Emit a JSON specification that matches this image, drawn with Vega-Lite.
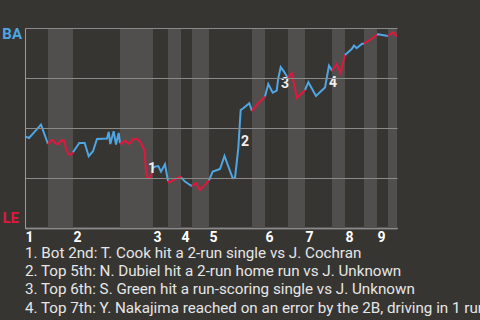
{
  "$schema": "https://vega.github.io/schema/vega-lite/v6.json",
  "width": 372,
  "height": 200,
  "autosize": {"type": "none"},
  "padding": {"left": 25, "top": 28, "right": 83, "bottom": 92},
  "background": "#373532",
  "config": {"view": {"stroke": null}, "font": "Roboto"},
  "title": {
    "text": [
      "1. Bot 2nd: T. Cook hit a 2-run single vs J. Cochran",
      "2. Top 5th: N. Dubiel hit a 2-run home run vs J. Unknown",
      "3. Top 6th: S. Green hit a run-scoring single vs J. Unknown",
      "4. Top 7th: Y. Nakajima reached on an error by the 2B, driving in 1 run"
    ],
    "orient": "bottom",
    "anchor": "start",
    "frame": "group",
    "font": "Roboto",
    "fontSize": 15.2,
    "fontWeight": "normal",
    "color": "#e6e6e6",
    "lineHeight": 18.2,
    "offset": 2,
    "limit": 1000
  },
  "datasets": {
    "bands": [
      {"start": 6.18, "end": 12.90},
      {"start": 25.54, "end": 34.41},
      {"start": 38.44, "end": 41.94},
      {"start": 44.89, "end": 49.46},
      {"start": 61.02, "end": 64.52},
      {"start": 70.70, "end": 75.27},
      {"start": 82.53, "end": 86.02},
      {"start": 91.13, "end": 94.62},
      {"start": 97.58, "end": 100}
    ],
    "notes": [
      {"n": "1", "x": 34.14, "y": 0.295},
      {"n": "2", "x": 59.14, "y": 0.43},
      {"n": "3", "x": 69.89, "y": 0.72},
      {"n": "4", "x": 82.80, "y": 0.725}
    ],
    "wp": [
      {"h": "T1", "t": "BA", "x": 0, "y": 0.458},
      {"h": "T1", "t": "BA", "x": 1.08, "y": 0.45},
      {"h": "T1", "t": "BA", "x": 2.69, "y": 0.483},
      {"h": "T1", "t": "BA", "x": 4.30, "y": 0.517},
      {"h": "T1", "t": "BA", "x": 6.18, "y": 0.42},
      {"h": "B1", "t": "LE", "x": 6.18, "y": 0.42},
      {"h": "B1", "t": "LE", "x": 6.99, "y": 0.437},
      {"h": "B1", "t": "LE", "x": 7.53, "y": 0.44},
      {"h": "B1", "t": "LE", "x": 8.33, "y": 0.42},
      {"h": "B1", "t": "LE", "x": 8.87, "y": 0.42},
      {"h": "B1", "t": "LE", "x": 9.95, "y": 0.44},
      {"h": "B1", "t": "LE", "x": 10.56, "y": 0.434},
      {"h": "B1", "t": "LE", "x": 11.10, "y": 0.392},
      {"h": "B1", "t": "LE", "x": 11.75, "y": 0.367},
      {"h": "B1", "t": "LE", "x": 12.45, "y": 0.367},
      {"h": "B1", "t": "LE", "x": 12.90, "y": 0.379},
      {"h": "T2", "t": "BA", "x": 12.90, "y": 0.379},
      {"h": "T2", "t": "BA", "x": 14.60, "y": 0.425},
      {"h": "T2", "t": "BA", "x": 16.05, "y": 0.425},
      {"h": "T2", "t": "BA", "x": 17.12, "y": 0.359},
      {"h": "T2", "t": "BA", "x": 18.28, "y": 0.384},
      {"h": "T2", "t": "BA", "x": 19.35, "y": 0.445},
      {"h": "T2", "t": "BA", "x": 22.04, "y": 0.447},
      {"h": "T2", "t": "BA", "x": 22.50, "y": 0.48},
      {"h": "T2", "t": "BA", "x": 22.93, "y": 0.42},
      {"h": "T2", "t": "BA", "x": 23.84, "y": 0.484},
      {"h": "T2", "t": "BA", "x": 24.46, "y": 0.417},
      {"h": "T2", "t": "BA", "x": 25.19, "y": 0.475},
      {"h": "T2", "t": "BA", "x": 25.54, "y": 0.425},
      {"h": "B2", "t": "LE", "x": 25.54, "y": 0.425},
      {"h": "B2", "t": "LE", "x": 25.89, "y": 0.42},
      {"h": "B2", "t": "LE", "x": 26.80, "y": 0.437},
      {"h": "B2", "t": "LE", "x": 27.96, "y": 0.42},
      {"h": "B2", "t": "LE", "x": 29.03, "y": 0.442},
      {"h": "B2", "t": "LE", "x": 29.92, "y": 0.447},
      {"h": "B2", "t": "LE", "x": 30.83, "y": 0.434},
      {"h": "B2", "t": "LE", "x": 31.72, "y": 0.404},
      {"h": "B2", "t": "LE", "x": 32.18, "y": 0.384},
      {"h": "B2", "t": "LE", "x": 32.45, "y": 0.30},
      {"h": "B2", "t": "LE", "x": 32.88, "y": 0.25},
      {"h": "B2", "t": "LE", "x": 33.52, "y": 0.25},
      {"h": "B2", "t": "LE", "x": 33.95, "y": 0.267},
      {"h": "B2", "t": "LE", "x": 34.41, "y": 0.30},
      {"h": "T3", "t": "BA", "x": 34.41, "y": 0.30},
      {"h": "T3", "t": "BA", "x": 34.95, "y": 0.307},
      {"h": "T3", "t": "BA", "x": 35.83, "y": 0.31},
      {"h": "T3", "t": "BA", "x": 36.56, "y": 0.282},
      {"h": "T3", "t": "BA", "x": 37.63, "y": 0.319},
      {"h": "T3", "t": "BA", "x": 38.44, "y": 0.235},
      {"h": "B3", "t": "LE", "x": 38.44, "y": 0.235},
      {"h": "B3", "t": "LE", "x": 38.79, "y": 0.227},
      {"h": "B3", "t": "LE", "x": 39.87, "y": 0.24},
      {"h": "B3", "t": "LE", "x": 41.67, "y": 0.257},
      {"h": "B3", "t": "LE", "x": 41.94, "y": 0.253},
      {"h": "T4", "t": "BA", "x": 41.94, "y": 0.253},
      {"h": "T4", "t": "BA", "x": 43.01, "y": 0.232},
      {"h": "T4", "t": "BA", "x": 44.35, "y": 0.215},
      {"h": "T4", "t": "BA", "x": 44.89, "y": 0.21},
      {"h": "B4", "t": "LE", "x": 44.89, "y": 0.21},
      {"h": "B4", "t": "LE", "x": 45.97, "y": 0.224},
      {"h": "B4", "t": "LE", "x": 47.04, "y": 0.19},
      {"h": "B4", "t": "LE", "x": 47.93, "y": 0.207},
      {"h": "B4", "t": "LE", "x": 49.46, "y": 0.238},
      {"h": "T5", "t": "BA", "x": 49.46, "y": 0.238},
      {"h": "T5", "t": "BA", "x": 50.46, "y": 0.282},
      {"h": "T5", "t": "BA", "x": 51.69, "y": 0.29},
      {"h": "T5", "t": "BA", "x": 52.42, "y": 0.295},
      {"h": "T5", "t": "BA", "x": 53.63, "y": 0.36},
      {"h": "T5", "t": "BA", "x": 54.52, "y": 0.315},
      {"h": "T5", "t": "BA", "x": 55.83, "y": 0.249},
      {"h": "T5", "t": "BA", "x": 56.45, "y": 0.25},
      {"h": "T5", "t": "BA", "x": 57.34, "y": 0.399},
      {"h": "T5", "t": "BA", "x": 57.98, "y": 0.59},
      {"h": "T5", "t": "BA", "x": 58.68, "y": 0.599},
      {"h": "T5", "t": "BA", "x": 60.30, "y": 0.624},
      {"h": "T5", "t": "BA", "x": 61.02, "y": 0.585},
      {"h": "B5", "t": "LE", "x": 61.02, "y": 0.585},
      {"h": "B5", "t": "LE", "x": 62.72, "y": 0.624},
      {"h": "B5", "t": "LE", "x": 64.06, "y": 0.649},
      {"h": "B5", "t": "LE", "x": 64.52, "y": 0.657},
      {"h": "T6", "t": "BA", "x": 64.52, "y": 0.657},
      {"h": "T6", "t": "BA", "x": 65.40, "y": 0.72},
      {"h": "T6", "t": "BA", "x": 66.59, "y": 0.677},
      {"h": "T6", "t": "BA", "x": 67.66, "y": 0.687},
      {"h": "T6", "t": "BA", "x": 68.09, "y": 0.749},
      {"h": "T6", "t": "BA", "x": 68.74, "y": 0.804},
      {"h": "T6", "t": "BA", "x": 69.62, "y": 0.782},
      {"h": "T6", "t": "BA", "x": 70.65, "y": 0.75},
      {"h": "B6", "t": "LE", "x": 70.65, "y": 0.75},
      {"h": "B6", "t": "LE", "x": 71.69, "y": 0.774},
      {"h": "B6", "t": "LE", "x": 72.58, "y": 0.699},
      {"h": "B6", "t": "LE", "x": 73.04, "y": 0.649},
      {"h": "B6", "t": "LE", "x": 74.38, "y": 0.674},
      {"h": "B6", "t": "LE", "x": 75.27, "y": 0.69},
      {"h": "T7", "t": "BA", "x": 75.27, "y": 0.69},
      {"h": "T7", "t": "BA", "x": 76.16, "y": 0.729},
      {"h": "T7", "t": "BA", "x": 77.07, "y": 0.699},
      {"h": "T7", "t": "BA", "x": 78.23, "y": 0.66},
      {"h": "T7", "t": "BA", "x": 79.49, "y": 0.682},
      {"h": "T7", "t": "BA", "x": 80.65, "y": 0.702},
      {"h": "T7", "t": "BA", "x": 81.10, "y": 0.749},
      {"h": "T7", "t": "BA", "x": 81.72, "y": 0.812},
      {"h": "T7", "t": "BA", "x": 82.18, "y": 0.799},
      {"h": "T7", "t": "BA", "x": 82.53, "y": 0.785},
      {"h": "B7", "t": "LE", "x": 82.53, "y": 0.785},
      {"h": "B7", "t": "LE", "x": 83.79, "y": 0.819},
      {"h": "B7", "t": "LE", "x": 84.87, "y": 0.774},
      {"h": "B7", "t": "LE", "x": 86.02, "y": 0.865},
      {"h": "T8", "t": "BA", "x": 86.02, "y": 0.865},
      {"h": "T8", "t": "BA", "x": 87.82, "y": 0.895},
      {"h": "T8", "t": "BA", "x": 88.44, "y": 0.912},
      {"h": "T8", "t": "BA", "x": 89.17, "y": 0.899},
      {"h": "T8", "t": "BA", "x": 90.51, "y": 0.92},
      {"h": "T8", "t": "BA", "x": 91.13, "y": 0.922},
      {"h": "B8", "t": "LE", "x": 91.13, "y": 0.922},
      {"h": "B8", "t": "LE", "x": 92.74, "y": 0.94},
      {"h": "B8", "t": "LE", "x": 94.55, "y": 0.965},
      {"h": "B8", "t": "LE", "x": 94.62, "y": 0.968},
      {"h": "T9", "t": "BA", "x": 94.62, "y": 0.968},
      {"h": "T9", "t": "BA", "x": 94.97, "y": 0.969},
      {"h": "T9", "t": "BA", "x": 97.58, "y": 0.96},
      {"h": "B9", "t": "LE", "x": 97.58, "y": 0.96},
      {"h": "B9", "t": "LE", "x": 99.01, "y": 0.979},
      {"h": "B9", "t": "LE", "x": 99.92, "y": 0.957}
    ]
  },
  "layer": [
    {
      "data": {"name": "bands"},
      "mark": {"type": "rect", "color": "#504f4d"},
      "encoding": {
        "x": {
          "field": "start",
          "type": "quantitative",
          "scale": {"domain": [0, 100], "nice": false, "zero": false},
          "axis": {
            "values": [0, 12.9, 34.41, 41.94, 49.46, 64.52, 75.27, 86.02, 94.62],
            "labelExpr": "'' + (indexof([0, 12.9, 34.41, 41.94, 49.46, 64.52, 75.27, 86.02, 94.62], datum.value) + 1)",
            "labelAlign": "left",
            "labelFlush": false,
            "labelOverlap": false,
            "ticks": false,
            "grid": false,
            "title": null,
            "domainColor": "#c4c4c4",
            "domainWidth": 1.5,
            "labelColor": "#ffffff",
            "labelFont": "Roboto",
            "labelFontSize": 14,
            "labelFontWeight": "bold",
            "labelPadding": 2
          }
        },
        "x2": {"field": "end"},
        "y": {
          "datum": 0,
          "type": "quantitative",
          "scale": {"domain": [0, 1], "nice": false, "zero": false},
          "axis": {
            "values": [0, 0.25, 0.5, 0.75, 1],
            "labels": false,
            "ticks": false,
            "title": null,
            "grid": true,
            "gridColor": "#8a8a8a",
            "gridWidth": 1,
            "domainColor": "#9c9c9c",
            "zindex": 1
          }
        },
        "y2": {"datum": 1}
      }
    },
    {
      "data": {"name": "wp"},
      "mark": {"type": "line", "strokeWidth": 2},
      "encoding": {
        "x": {"field": "x", "type": "quantitative"},
        "y": {"field": "y", "type": "quantitative"},
        "color": {
          "field": "t",
          "type": "nominal",
          "scale": {"domain": ["BA", "LE"], "range": ["#4ea6e4", "#e3163d"]},
          "legend": null
        },
        "detail": {"field": "h"}
      }
    },
    {
      "data": {"name": "notes"},
      "mark": {"type": "text", "font": "Roboto", "fontSize": 14, "fontWeight": "bold", "color": "#f0f0f0", "align": "center", "baseline": "middle"},
      "encoding": {
        "x": {"field": "x", "type": "quantitative"},
        "y": {"field": "y", "type": "quantitative"},
        "text": {"field": "n"}
      }
    },
    {
      "data": {"values": [{"label": "BA"}]},
      "mark": {"type": "text", "font": "Roboto", "fontSize": 15, "fontWeight": "bold", "color": "#4ea6e4", "align": "right", "baseline": "top", "dx": -3, "dy": -1},
      "encoding": {
        "x": {"datum": 0, "type": "quantitative"},
        "y": {"datum": 1, "type": "quantitative"},
        "text": {"field": "label"}
      }
    },
    {
      "data": {"values": [{"label": "LE"}]},
      "mark": {"type": "text", "font": "Roboto", "fontSize": 15, "fontWeight": "bold", "color": "#e3163d", "align": "right", "baseline": "bottom", "dx": -6, "dy": -2},
      "encoding": {
        "x": {"datum": 0, "type": "quantitative"},
        "y": {"datum": 0, "type": "quantitative"},
        "text": {"field": "label"}
      }
    }
  ]
}
